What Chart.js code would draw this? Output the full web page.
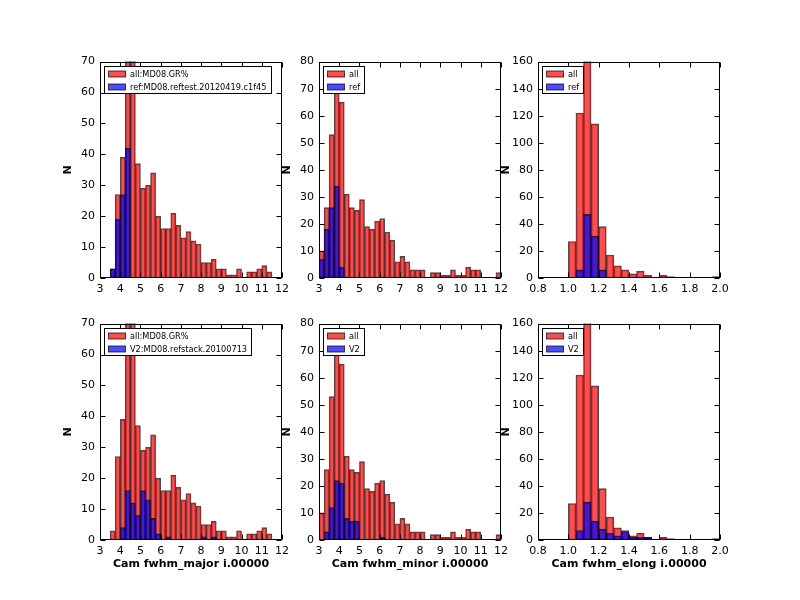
<!DOCTYPE html>
<html>
<head>
<meta charset="utf-8">
<script src="https://cdn.jsdelivr.net/npm/chart.js@4.4.1/dist/chart.umd.min.js"></script>
<style>
  html, body { margin: 0; padding: 0; background: #fff; }
  #fig { position: relative; width: 800px; height: 600px; background: #fff; overflow: hidden; }
  #fig canvas { position: absolute; }
</style>
</head>
<body>
<div id="fig"></div>
<script>
// histogram bins (left edges built from start / width / count)
const majorBins = { start: 3.0, width: 0.25, count: 36 };
const minorBins = { start: 3.0, width: 0.25, count: 36 };
const elongBins = { start: 0.8, width: 0.05, count: 24 };

// counts per bin
const majorAll = [0, 0, 3, 27, 39, 75, 73, 37, 29, 30, 34, 20, 16, 16, 21, 17, 13, 15, 12, 11,
  5, 5, 6, 3, 3, 1, 1, 3, 0, 2, 2, 3, 4, 2, 0, 0];
const majorRef = [0, 0, 3, 19, 27, 42, 0, 0, 0, 0, 0, 0, 0, 0, 0, 0, 0, 0, 0, 0,
  0, 0, 0, 0, 0, 0, 0, 0, 0, 0, 0, 0, 0, 0, 0, 0];
const majorV2 = [0, 0, 0, 0, 4, 16, 12, 8, 16, 13, 7, 2, 0, 1, 0, 0, 0, 0, 0, 0,
  1, 0, 1, 0, 0, 0, 0, 0, 0, 0, 0, 0, 0, 0, 0, 0];

const minorAll = [10, 26, 53, 70, 65, 31, 26, 25, 29, 19, 18, 21, 22, 17, 14, 6, 8, 6, 3, 3,
  3, 0, 2, 2, 1, 1, 3, 1, 1, 4, 3, 3, 0, 0, 0, 2];
const minorRef = [7, 18, 26, 34, 4, 0, 0, 0, 0, 0, 0, 0, 0, 0, 0, 0, 0, 0, 0, 0,
  0, 0, 0, 0, 0, 0, 0, 0, 0, 0, 0, 0, 0, 0, 0, 0];
const minorV2 = [0, 3, 12, 22, 21, 8, 7, 7, 0, 0, 0, 0, 1, 0, 0, 0, 0, 0, 0, 0,
  0, 0, 0, 0, 0, 0, 0, 0, 0, 0, 0, 0, 0, 0, 0, 0];

const elongAll = [0, 0, 0, 0, 27, 122, 172, 114, 38, 17, 9, 6, 3, 5, 2, 0, 2, 1, 0, 0, 0, 0, 0, 1];
const elongRef = [0, 0, 0, 0, 0, 6, 47, 31, 6, 0, 0, 0, 0, 0, 0, 0, 0, 0, 0, 0, 0, 0, 0, 0];
const elongV2 = [0, 0, 0, 0, 0, 7, 28, 14, 8, 5, 3, 7, 2, 2, 2, 0, 0, 0, 0, 0, 0, 0, 0, 0];

// axis limits and tick steps
const fwhmXTicks = { min: 3, max: 12, step: 1 };
const elongXTicks = { min: 0.8, max: 2.0, step: 0.2 };
const majorYTicks = { min: 0, max: 70, step: 10 };
const minorYTicks = { min: 0, max: 80, step: 10 };
const elongYTicks = { min: 0, max: 160, step: 20 };

const allLabel = 'all:MD08.GR%';
const refLabel = 'ref:MD08.reftest.20120419.c1f45';
const v2Label = 'V2:MD08.refstack.20100713';

const colLeft = [100, 319, 538];
const rowTop = [60, 322];
const axW = 182, axH = 218;
const PAD_L = 60, PAD_T = 10, PAD_R = 14, PAD_B = 40;
const TICK = 5;

Chart.defaults.font.family = '"DejaVu Sans", sans-serif';
Chart.defaults.color = '#000';

// axes frame + inward ticks on all four sides
const frameTicks = {
  id: 'frameTicks',
  afterDatasetsDraw(chart) {
    const { ctx, chartArea: a, scales: { x, y } } = chart;
    const l = Math.round(a.left) + 0.5, r = Math.round(a.right) - 0.5;
    const t = Math.round(a.top) + 0.5, b = Math.round(a.bottom) - 0.5;
    ctx.save();
    ctx.strokeStyle = '#000';
    ctx.lineWidth = 1;
    ctx.beginPath();
    x.ticks.forEach(tk => {
      const px = Math.round(x.getPixelForValue(tk.value)) + 0.5;
      ctx.moveTo(px, b); ctx.lineTo(px, b - TICK);
      ctx.moveTo(px, t); ctx.lineTo(px, t + TICK);
    });
    y.ticks.forEach(tk => {
      const py = Math.round(y.getPixelForValue(tk.value)) + 0.5;
      ctx.moveTo(l, py); ctx.lineTo(l + TICK, py);
      ctx.moveTo(r, py); ctx.lineTo(r - TICK, py);
    });
    ctx.stroke();
    ctx.strokeRect(l, t, r - l, b - t);
    ctx.restore();
  }
};

// boxed legend in the upper left corner of the axes
const boxLegend = {
  id: 'boxLegend',
  afterDraw(chart) {
    const { ctx, chartArea: a } = chart;
    const sets = chart.data.datasets;
    ctx.save();
    ctx.font = '8.2px "DejaVu Sans"';
    const textW = Math.max(...sets.map(d => ctx.measureText(d.label).width));
    const x0 = Math.round(a.left + 4) + 0.5, y0 = Math.round(a.top + 4) + 0.5;
    const w = Math.round(26 + textW + 4), h = 27;
    ctx.fillStyle = '#fff';
    ctx.fillRect(x0, y0, w, h);
    ctx.lineWidth = 1;
    ctx.strokeStyle = '#000';
    ctx.strokeRect(x0, y0, w, h);
    sets.forEach((d, i) => {
      const cy = Math.round(y0 + 7.5 + i * 12.7);
      ctx.fillStyle = d.backgroundColor;
      ctx.fillRect(x0 + 4, cy - 3, 17, 6);
      ctx.strokeStyle = d.borderColor;
      ctx.strokeRect(x0 + 4, cy - 3, 17, 6);
      ctx.fillStyle = '#000';
      ctx.textBaseline = 'middle';
      ctx.fillText(d.label, x0 + 25.5, cy + 0.5);
    });
    ctx.restore();
  }
};

function toPoints(bins, counts) {
  return counts.map((c, i) => ({ x: bins.start + (i + 0.5) * bins.width, y: c }));
}

// order: lower value is drawn on top, so the subset sits over "all"
function barSet(label, bins, counts, color, order) {
  return {
    label: label,
    data: toPoints(bins, counts),
    backgroundColor: color,
    borderColor: 'rgba(0,0,0,0.7)',
    borderWidth: 1,
    borderSkipped: false,
    grouped: false,
    order: order,
    barPercentage: 1,
    categoryPercentage: 1
  };
}

const panels = [
  { col: 0, row: 0, bins: majorBins, all: majorAll, sub: majorRef, labels: [allLabel, refLabel], xt: fwhmXTicks, yt: majorYTicks, xlabel: '' },
  { col: 1, row: 0, bins: minorBins, all: minorAll, sub: minorRef, labels: ['all', 'ref'], xt: fwhmXTicks, yt: minorYTicks, xlabel: '' },
  { col: 2, row: 0, bins: elongBins, all: elongAll, sub: elongRef, labels: ['all', 'ref'], xt: elongXTicks, yt: elongYTicks, xlabel: '' },
  { col: 0, row: 1, bins: majorBins, all: majorAll, sub: majorV2, labels: [allLabel, v2Label], xt: fwhmXTicks, yt: majorYTicks, xlabel: 'Cam fwhm_major i.00000' },
  { col: 1, row: 1, bins: minorBins, all: minorAll, sub: minorV2, labels: ['all', 'V2'], xt: fwhmXTicks, yt: minorYTicks, xlabel: 'Cam fwhm_minor i.00000' },
  { col: 2, row: 1, bins: elongBins, all: elongAll, sub: elongV2, labels: ['all', 'V2'], xt: elongXTicks, yt: elongYTicks, xlabel: 'Cam fwhm_elong i.00000' }
];

const fig = document.getElementById('fig');

panels.forEach(p => {
  const canvas = document.createElement('canvas');
  canvas.width = PAD_L + axW + PAD_R;
  canvas.height = PAD_T + axH + PAD_B;
  canvas.style.left = (colLeft[p.col] - PAD_L) + 'px';
  canvas.style.top = (rowTop[p.row] - PAD_T) + 'px';
  fig.appendChild(canvas);

  const decimals = p.xt.step < 1 ? 1 : 0;

  new Chart(canvas.getContext('2d'), {
    type: 'bar',
    data: {
      datasets: [
        barSet(p.labels[0], p.bins, p.all, 'rgba(255,0,0,0.7)', 1),
        barSet(p.labels[1], p.bins, p.sub, 'rgba(0,0,255,0.7)', 0)
      ]
    },
    options: {
      responsive: false,
      animation: false,
      devicePixelRatio: 1,
      layout: { padding: { top: PAD_T, right: PAD_R, left: 0, bottom: 0 } },
      plugins: { legend: { display: false }, tooltip: { enabled: false } },
      scales: {
        x: {
          type: 'linear',
          min: p.xt.min,
          max: p.xt.max,
          offset: false,
          grid: { display: false, drawTicks: false, offset: false },
          border: { display: false },
          ticks: {
            stepSize: p.xt.step,
            padding: 5,
            autoSkip: false,
            maxRotation: 0,
            font: { size: 11 },
            callback: v => Number(v).toFixed(decimals)
          },
          title: {
            display: p.xlabel !== '',
            text: p.xlabel,
            font: { size: 11, weight: 'bold' },
            padding: { top: 0, bottom: 9 }
          },
          afterFit: s => { s.height = PAD_B; }
        },
        y: {
          min: p.yt.min,
          max: p.yt.max,
          grid: { display: false, drawTicks: false },
          border: { display: false },
          ticks: { stepSize: p.yt.step, padding: 5, font: { size: 11 } },
          title: {
            display: true,
            text: 'N',
            font: { size: 11, weight: 'bold' },
            padding: { top: 22, bottom: 0 }
          },
          afterFit: s => { s.width = PAD_L; }
        }
      }
    },
    plugins: [frameTicks, boxLegend]
  });
});
</script>
</body>
</html>
